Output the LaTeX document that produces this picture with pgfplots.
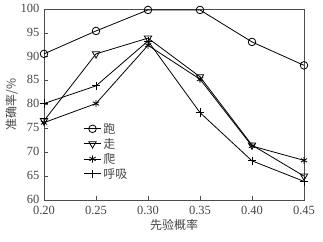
\documentclass[border=0pt]{standalone}
\usepackage{pgfplots}
\pgfplotsset{compat=1.18}
\usepackage{fontspec}
\setmainfont{Liberation Serif}
\newfontfamily\cjk{Noto Sans CJK SC}
\definecolor{txt}{HTML}{444444}
\begin{document}
\begin{tikzpicture}
\begin{axis}[
  name=ax,
  scale only axis,
  width=260pt, height=191pt,
  xmin=0.2, xmax=0.45, ymin=60, ymax=100,
  xtick={0.2,0.25,0.3,0.35,0.4,0.45},
  xticklabels={0.20,0.25,0.30,0.35,0.40,0.45},
  ytick={60,65,70,75,80,85,90,95,100},
  tick align=inside,
  xtick pos=bottom, ytick pos=left,
  major tick length=4pt,
  axis line style={black!70, line width=0.6pt},
  tick style={black!70, line width=0.6pt},
  ticklabel style={font=\fontsize{12.5}{12.5}\selectfont, text=txt},
  x tick label style={yshift=-5pt, inner ysep=0.5pt},
  y tick label style={xshift=-1pt, yshift=0.8pt, inner ysep=0.5pt},
  /pgf/number format/assume math mode=true,
  xlabel={\cjk 先验概率},
  ylabel={\cjk 准确率/\%},
  label style={font=\fontsize{12}{12}\selectfont, text=txt},
  xlabel style={yshift=-1pt},
  ylabel style={yshift=-4pt},
  legend style={at={(0.14,0.425)}, anchor=north west, draw=none, fill=none,
    font=\cjk\fontsize{12}{12}\selectfont, text=txt, row sep=-0.5pt,
    /tikz/every even column/.append style={column sep=0pt}},
  legend cell align=left,
  every axis plot/.append style={black, line width=0.8pt, mark options={solid, fill=white, line width=0.8pt}},
]
\addplot[mark=o, mark size=3.8pt] coordinates {
  (0.20,90.6) (0.25,95.4) (0.30,99.8) (0.35,99.8) (0.40,93.1) (0.45,88.2)};
\addlegendentry{跑}
\addplot[mark=triangle, mark size=4.2pt, mark options={rotate=180}] coordinates {
  (0.20,76.6) (0.25,90.6) (0.30,93.9) (0.35,85.8) (0.40,71.5) (0.45,65.0)};
\addlegendentry{走}
\addplot[mark=asterisk, mark size=3.6pt] coordinates {
  (0.20,76.2) (0.25,80.2) (0.30,92.4) (0.35,85.3) (0.40,71.3) (0.45,68.3)};
\addlegendentry{爬}
\addplot[mark=+, mark size=4.2pt] coordinates {
  (0.20,80.2) (0.25,83.9) (0.30,93.3) (0.35,78.3) (0.40,68.2) (0.45,63.9)};
\addlegendentry{呼吸}
\end{axis}
\path ([shift={(-44pt,-42pt)}]ax.south west) rectangle ([shift={(19pt,9pt)}]ax.north east);
\end{tikzpicture}
\end{document}
